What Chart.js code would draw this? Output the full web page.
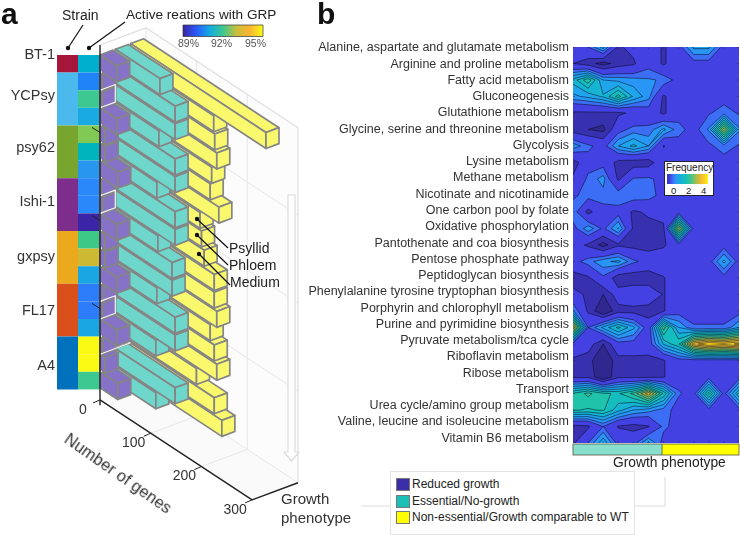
<!DOCTYPE html>
<html>
<head>
<meta charset="utf-8">
<style>
  html, body { margin: 0; padding: 0; background: #fff; }
  body { width: 740px; height: 535px; position: relative; overflow: hidden; font-family: "Liberation Sans", Arial, sans-serif; color: #333; }
  canvas { position: absolute; left: 0; top: 0; }
  .note { position: absolute; white-space: nowrap; line-height: 1; }
  #legend { position: absolute; left: 390px; top: 471px; width: 243px; height: 62px; border: 1.5px solid #e4e4e4; background: #fff; }
  #legend i { position: absolute; left: 5px; width: 12px; height: 11px; border: 1px solid #777; }
  #legend span { position: absolute; left: 21px; font-size: 12px; line-height: 1; color: #222; white-space: nowrap; }
  #freq { position: absolute; left: 664px; top: 161px; width: 48px; height: 33px; border: 1px solid #223; background: #fff; }
</style>
</head>
<body>
<canvas id="bars" width="740" height="535"></canvas>
<canvas id="contour" width="740" height="535"></canvas>
<div id="legend"></div>
<script src="https://cdn.jsdelivr.net/npm/chart.js@4/dist/chart.umd.min.js"></script>
<script>
// panel a: genes per strain row
const strains = ['BT-1', 'YCPsy', 'psy62', 'Ishi-1', 'gxpsy', 'FL17', 'A4'];
const strainRows = [1, 3, 3, 3, 3, 3, 3];
const strainLabelRows = [0, 2.33, 5.28, 8.35, 11.47, 14.54, 17.67];
const strainColors = ['#a5173a', '#4cb9ec', '#78a52e', '#7d2d8c', '#ebaa1e', '#d9501a', '#0072bd'];
const grpColors = ['#00afcd', '#2084f8', '#3dc892', '#1aaae2', '#82c855', '#00b4be', '#2896ec', '#2a88fa', '#2a88fa', '#3c24a6',
  '#3dc888', '#cdb932', '#1aa6e2', '#2d7dfa', '#2d7dfa', '#1aa6e2', '#fafa14', '#fafa14', '#3dc892'];
const reducedGenes = [33, 5, 5, 33, 10, 10, 35, 3, 5, 33, 10, 10, 33, 8, 5, 33, 5, 10, 35];
const essentialGenes = [88, 118, 118, 86, 118, 118, 82, 118, 118, 84, 112, 112, 82, 118, 118, 80, 0, 118, 80];
const growthGenes = [267, 164, 166, 170, 160, 157, 174, 137, 140, 145, 165, 165, 170, 157, 165, 170, 130, 165, 180];
const geneTicks = [0, 100, 200, 300];
const grpStops = ['#3c23a5', '#2a5afa', '#14aae1', '#3cc891', '#c8be3c', '#fab432', '#fafa14'];

// panel b: pathway by growth phenotype frequency
const pathways = [
  'Alanine, aspartate and glutamate metabolism', 'Arginine and proline metabolism', 'Fatty acid metabolism',
  'Gluconeogenesis', 'Glutathione metabolism', 'Glycine, serine and threonine metabolism', 'Glycolysis',
  'Lysine metabolism', 'Methane metabolism', 'Nicotinate and nicotinamide', 'One carbon pool by folate',
  'Oxidative phosphorylation', 'Pantothenate and coa biosynthesis', 'Pentose phosphate pathway',
  'Peptidoglycan biosynthesis', 'Phenylalanine tyrosine tryptophan biosynthesis', 'Porphyrin and chlorophyll metabolism',
  'Purine and pyrimidine biosynthesis', 'Pyruvate metabolism/tca cycle', 'Riboflavin metabolism', 'Ribose metabolism',
  'Transport', 'Urea cycle/amino group metabolism', 'Valine, leucine and isoleucine metabolism', 'Vitamin B6 metabolism'
];
const frequency = [
  [0, .2, 1.1, -.6, -.3, 0, -.6, 0, 1, 1, 0, 0],
  [-.5, -.8, -1.2, -.8, -.6, 0, -.6, 0, 0, 0, 0, 0],
  [1.4, 2.2, .9, .8, .7, .6, .5, 0, 0, 0, 0, 0],
  [.8, 1, 1.3, 2.1, 1.2, .7, -.6, 0, 0, 0, 0, 0],
  [-.6, -.6, -.6, -.6, -.4, -.1, -.6, 0, 0, .15, .4, .15],
  [-.8, -1, -1.15, 0, .35, .3, 1, .35, 0, .6, 3.2, .6],
  [.8, .3, 0, .9, 1.35, .9, -.55, 0, 0, .1, .4, .15],
  [-.8, 0, 0, -.7, -.8, -.8, 0, 0, 0, 0, 0, 0],
  [-.4, .3, .7, -.6, .25, .3, 0, 0, 0, 0, 0, 0],
  [.1, .4, .4, .5, .5, .4, 0, 0, 0, 0, 0, 0],
  [.5, -.7, 0, 0, -.6, -.4, -.3, 0, 0, 0, 0, 0],
  [0, .8, .1, .95, -.6, -.7, -.6, 3.2, 0, 0, 0, 0],
  [-.2, -.6, -1.2, -.6, -.7, -.8, -.6, 0, 0, 0, 0, 0],
  [0, .4, .8, 1, .3, 0, 0, 0, 0, 0, 1, 0],
  [-.8, -.6, .1, -.9, -.9, -.9, -.55, 0, 0, 0, 0, 0],
  [-.3, -.6, -1, -.2, 0, 0, -.55, 0, 0, 0, 0, 0],
  [.6, -.6, -1.5, -.7, -.7, -.8, -.55, 0, 0, 0, 0, 0],
  [3.7, .2, 1, 1.7, 1, -.1, 2.5, .9, .25, .25, .25, .9],
  [0, -.2, -1, 0, 0, -.1, 1.3, 1.9, 3.9, 4.4, 4.2, 4.5],
  [-.6, -.8, -1.5, -.7, -.7, -.7, -.55, 0, 0, 0, 0, 0],
  [-.6, -.6, -1.5, -.6, -.6, -.6, -.55, 0, 0, 0, 0, 0],
  [2, 2.4, 2, 1.9, 2.4, 3.6, 1.9, .25, 0, 2.1, 0, 1.6],
  [2, 1.9, 2, 1.4, .9, .7, .4, 0, 0, 0, 0, 0],
  [-.7, -.6, .2, -.55, -.7, -.55, .3, 0, 0, 0, 0, 0],
  [-.6, .2, 1.2, 0, 0, 1, 0, 0, 0, 0, 0, 0]
];
const contourLevels = [-1, -.5, .2, .55, .9, 1.25, 1.6, 1.95, 2.3, 2.65, 3, 3.35, 3.7, 4.05, 4.4];
const contourColors = ['#30288f', '#3730af', '#4341e1', '#3c6ef5', '#2896f5', '#1ea5eb', '#14b4d2', '#14bebe', '#1ec3aa',
  '#3cc396', '#6ec36e', '#a5be50', '#d7b937', '#fabe2d', '#fad723', '#faf514'];
const phenotypeSplit = 5.9;
const legendItems = [['Reduced growth', '#3a2fa8'], ['Essential/No-growth', '#1abfb5'], ['Non-essential/Growth comparable to WT', '#ffff00']];

const FONT = '"Liberation Sans", Arial, sans-serif';

function note(text, x, y, size, extra) {
  const el = document.createElement('div');
  el.className = 'note';
  el.textContent = text;
  el.style.left = x + 'px';
  el.style.top = y + 'px';
  el.style.fontSize = size + 'px';
  if (extra) Object.assign(el.style, extra);
  document.body.appendChild(el);
  return el;
}

// oblique projection of (genes, phenotype slot, strain row)
const ORIGIN = { x: 100, y: 55 };
const GENE = { x: 0.507, y: 0.333 };
const SLOT = { x: 15.3, y: -5.7 };
const ROW = 17.6;
const project = (g, p, s) => ({
  x: ORIGIN.x + GENE.x * g + SLOT.x * p,
  y: ORIGIN.y + GENE.y * g + SLOT.y * p + ROW * s
});

function poly(ctx, scales, pts, fill, stroke, width) {
  ctx.beginPath();
  pts.forEach((q, i) => {
    const px = scales.x.getPixelForValue(q.x), py = scales.y.getPixelForValue(q.y);
    if (i) ctx.lineTo(px, py); else ctx.moveTo(px, py);
  });
  if (fill) { ctx.closePath(); ctx.fillStyle = fill; ctx.fill(); }
  if (stroke) { ctx.strokeStyle = stroke; ctx.lineWidth = width || 1; ctx.stroke(); }
}

const barsPlugin = {
  id: 'bars3d',
  afterDraw(chart) {
    const { ctx, scales } = chart;
    const P = project;
    const wall = '#e6e6e6';
    const top = -0.57, floor = 19.6;
    ctx.save();
    ctx.lineJoin = 'round';

    // box walls and floor
    poly(ctx, scales, [P(0, 0, floor), P(300, 0, floor), P(300, 3, floor), P(0, 3, floor)], '#fafafa', null);
    poly(ctx, scales, [P(0, 3, top), P(300, 3, top), P(300, 3, floor), P(0, 3, floor)], '#fcfcfc', null);
    [100, 200].forEach(g => {
      poly(ctx, scales, [P(g, 3, top), P(g, 3, floor), P(g, 0, floor)], null, wall, 1);
    });
    [4.4, 9.4, 14.4].forEach(s => {
      poly(ctx, scales, [P(0, 3, s), P(300, 3, s)], null, wall, 1);
    });
    poly(ctx, scales, [P(0, 0, top), P(0, 3, top), P(300, 3, top), P(300, 3, floor)], null, '#dedede', 1.2);
    poly(ctx, scales, [P(0, 3, top), P(0, 3, floor), P(300, 3, floor)], null, wall, 1);

    // growth phenotype arrow on the wall
    poly(ctx, scales, [{ x: 288, y: 195 }, { x: 295, y: 195 }, { x: 295, y: 452 }, { x: 299, y: 452 }, { x: 291.5, y: 461 }, { x: 284, y: 452 }, { x: 288, y: 452 }], '#fff', '#dcdcdc', 1.2);

    // strain and GRP columns
    let row = 0;
    strains.forEach((name, i) => {
      poly(ctx, scales, [{ x: 57, y: P(0, 0, row).y }, { x: 78, y: P(0, 0, row).y }, { x: 78, y: P(0, 0, row + strainRows[i]).y }, { x: 57, y: P(0, 0, row + strainRows[i]).y }], strainColors[i], null);
      row += strainRows[i];
    });
    grpColors.forEach((c, s) => {
      poly(ctx, scales, [{ x: 78, y: P(0, 0, s).y }, { x: 100, y: P(0, 0, s).y }, { x: 100, y: P(0, 0, s + 1).y }, { x: 78, y: P(0, 0, s + 1).y }], c, null);
    });

    // bars, lower rows first since the upper rows sit on top of them
    const W = 0.85, H = 16 / ROW;
    const edge = '#858585', edgeWidth = 1.7;
    const series = [[growthGenes, '#faf96e', 2], [essentialGenes, '#6fd6cb', 1], [reducedGenes, '#8672c6', 0]];
    for (let s = grpColors.length - 1; s >= 0; s--) {
      series.forEach(([vals, color, p]) => {
        const g = vals[s];
        if (!g) return;
        poly(ctx, scales, [P(0, p + W, s), P(g, p + W, s), P(g, p, s), P(0, p, s)], color, edge, edgeWidth);
        poly(ctx, scales, [P(0, p, s), P(g, p, s), P(g, p, s + H), P(0, p, s + H)], color, edge, edgeWidth);
        poly(ctx, scales, [P(g, p, s), P(g, p + W, s), P(g, p + W, s + H), P(g, p, s + H)], color, edge, edgeWidth);
      });
    }

    // empty bars only leave their white outline
    [2, 8, 14].forEach(s => {
      poly(ctx, scales, [P(0, 0, s), P(0, 1, s), P(0, 1, s + 1), P(0, 0, s + 1)], null, '#f4f4f4', 1.2);
    });
    poly(ctx, scales, [P(0, 0, 17), P(0, 2, 17)], null, '#f4f4f4', 1.2);
    grpColors.forEach((c, s) => {
      if (s) poly(ctx, scales, [P(0, 0.05, s), P(0, 0.12, s)], null, '#fff', 1.2);
    });

    // axes
    poly(ctx, scales, [P(0, 0, top), P(0, 0, floor + 0.3)], null, '#222', 1.4);
    poly(ctx, scales, [P(0, 0, floor), P(300, 0, floor), P(300, 3, floor)], null, '#222', 1.4);
    [4.4, 9.4, 14.4].forEach(s => {
      poly(ctx, scales, [P(0, 0, s), { x: P(0, 0, s).x - 8, y: P(0, 0, s).y - 5 }], null, '#222', 1);
    });
    ctx.font = '14px ' + FONT;
    ctx.textAlign = 'center';
    ctx.textBaseline = 'middle';
    geneTicks.forEach(g => {
      const q = P(g, 0, floor);
      poly(ctx, scales, [q, { x: q.x - 7, y: q.y + 3 }], null, '#222', 1);
      ctx.fillStyle = '#333';
      ctx.fillText(String(g), scales.x.getPixelForValue(q.x) - 17, scales.y.getPixelForValue(q.y) + 10);
    });
    ctx.font = '14.5px ' + FONT;
    ctx.textAlign = 'right';
    strains.forEach((name, i) => {
      ctx.fillText(name, 55, scales.y.getPixelForValue(P(0, 0, strainLabelRows[i]).y));
    });

    // GRP colour bar
    const grad = ctx.createLinearGradient(183, 0, 263, 0);
    grpStops.forEach((c, i) => grad.addColorStop(i / (grpStops.length - 1), c));
    ctx.fillStyle = grad;
    ctx.fillRect(183, 25, 80, 11.5);
    ctx.strokeStyle = '#333';
    ctx.lineWidth = 0.7;
    ctx.strokeRect(183, 25, 80, 11.5);

    // call-out lines
    ctx.strokeStyle = '#111';
    ctx.fillStyle = '#111';
    ctx.lineWidth = 1.2;
    [[68, 48, 83, 25], [89, 48, 125, 22], [197, 219, 228, 248], [197, 235, 228, 265], [199, 254, 230, 285]].forEach(([x0, y0, x1, y1]) => {
      ctx.beginPath();
      ctx.moveTo(x0, y0);
      ctx.lineTo(x1, y1);
      ctx.stroke();
      ctx.beginPath();
      ctx.arc(x0, y0, 2.2, 0, Math.PI * 2);
      ctx.fill();
    });

    // legend connectors
    ctx.strokeStyle = '#dcdcdc';
    ctx.lineWidth = 1;
    ctx.beginPath();
    ctx.moveTo(361, 506); ctx.lineTo(391, 506);
    ctx.moveTo(634, 506); ctx.lineTo(665, 506); ctx.lineTo(665, 477);
    ctx.stroke();
    ctx.restore();
  }
};

new Chart(document.getElementById('bars'), {
  type: 'scatter',
  data: { datasets: [] },
  plugins: [barsPlugin],
  options: {
    responsive: false,
    animation: false,
    layout: { padding: 0 },
    plugins: { legend: { display: false }, tooltip: { enabled: false } },
    scales: {
      x: { type: 'linear', min: 0, max: 740, display: false },
      y: { type: 'linear', min: 0, max: 535, reverse: true, display: false }
    }
  }
});

// filled contours by marching over the grid cells
const contourPlugin = {
  id: 'contourf',
  afterDatasetsDraw(chart) {
    const { ctx, chartArea: area, scales } = chart;
    const px = c => scales.x.getPixelForValue(c), py = r => scales.rows.getPixelForValue(r);
    ctx.save();
    ctx.beginPath();
    ctx.rect(area.left, area.top, area.width, area.height);
    ctx.clip();
    ctx.fillStyle = contourColors[0];
    ctx.fillRect(area.left, area.top, area.width, area.height);
    contourLevels.forEach((L, li) => {
      const fill = new Path2D(), line = new Path2D();
      for (let r = 0; r < frequency.length - 1; r++) {
        for (let c = 0; c < frequency[r].length - 1; c++) {
          const corners = [[c, r], [c + 1, r], [c + 1, r + 1], [c, r + 1]].map(([x, y]) => ({ x, y, v: frequency[y][x] }));
          const pts = [];
          corners.forEach((a, k) => {
            const b = corners[(k + 1) % 4];
            if (a.v >= L) pts.push({ x: a.x, y: a.y, cut: false });
            if ((a.v >= L) !== (b.v >= L)) {
              const t = (L - a.v) / (b.v - a.v);
              pts.push({ x: a.x + (b.x - a.x) * t, y: a.y + (b.y - a.y) * t, cut: true });
            }
          });
          if (pts.length < 3) continue;
          pts.forEach((q, i) => {
            if (i) fill.lineTo(px(q.x), py(q.y)); else fill.moveTo(px(q.x), py(q.y));
            const n = pts[(i + 1) % pts.length];
            if (q.cut && n.cut) {
              line.moveTo(px(q.x), py(q.y));
              line.lineTo(px(n.x), py(n.y));
            }
          });
          fill.closePath();
        }
      }
      ctx.fillStyle = contourColors[li + 1];
      ctx.fill(fill);
      ctx.strokeStyle = 'rgba(10,10,30,0.75)';
      ctx.lineWidth = 0.7;
      ctx.stroke(line);
    });
    // inner box ticks
    ctx.strokeStyle = 'rgba(30,30,60,0.6)';
    ctx.lineWidth = 0.6;
    ctx.beginPath();
    pathways.forEach((_, r) => {
      ctx.moveTo(area.left, py(r)); ctx.lineTo(area.left + 2, py(r));
      ctx.moveTo(area.right, py(r)); ctx.lineTo(area.right - 2, py(r));
    });
    frequency[0].forEach((_, c) => {
      ctx.moveTo(px(c), area.top); ctx.lineTo(px(c), area.top + 2);
      ctx.moveTo(px(c), area.bottom); ctx.lineTo(px(c), area.bottom - 2);
    });
    ctx.stroke();
    ctx.restore();

    // growth phenotype strip
    const split = px(phenotypeSplit);
    ctx.fillStyle = '#88dfcd';
    ctx.fillRect(area.left, area.bottom + 1, split - area.left, 11);
    ctx.fillStyle = '#ffff00';
    ctx.fillRect(split, area.bottom + 1, area.right - split, 11);
    ctx.strokeStyle = '#55553c';
    ctx.lineWidth = 0.8;
    ctx.strokeRect(area.left, area.bottom + 1, area.width, 11);
    ctx.beginPath();
    ctx.moveTo(split, area.bottom + 1);
    ctx.lineTo(split, area.bottom + 12);
    ctx.stroke();
  }
};

new Chart(document.getElementById('contour'), {
  type: 'scatter',
  data: { datasets: [] },
  plugins: [contourPlugin],
  options: {
    responsive: false,
    animation: false,
    layout: { padding: { left: 0, right: 1, top: 47, bottom: 92 } },
    plugins: { legend: { display: false }, tooltip: { enabled: false } },
    scales: {
      x: { type: 'linear', min: 0, max: 11, display: false },
      rows: { type: 'linear', axis: 'y', min: 0, max: 24, reverse: true, display: false },
      y: {
        type: 'linear',
        position: 'left',
        reverse: true,
        min: -0.06,
        max: 24.3,
        grid: { display: false, drawTicks: false },
        border: { display: false },
        afterBuildTicks: axis => { axis.ticks = pathways.map((_, i) => ({ value: i })); },
        afterFit: axis => { axis.width = 573; },
        ticks: {
          autoSkip: false,
          padding: 4,
          color: '#333',
          font: { family: FONT, size: 12.5 },
          callback: v => pathways[v]
        }
      }
    }
  }
});

// annotations
note('a', 1, -1, 30, { fontWeight: 'bold', color: '#111' });
note('b', 317, -1, 30, { fontWeight: 'bold', color: '#111' });
note('Strain', 62, 8, 14, { color: '#222' });
note('Active reations with GRP', 126, 8, 13.6, { color: '#222' });
note('89%', 178, 38, 10.5, { color: '#555' });
note('92%', 211, 38, 10.5, { color: '#555' });
note('95%', 245, 38, 10.5, { color: '#555' });
note('Psyllid', 229, 241, 14, { color: '#222' });
note('Phloem', 229, 258, 14, { color: '#222' });
note('Medium', 230, 275, 14, { color: '#222' });
note('Number of genes', 55, 465, 16.5, { transform: 'rotate(35deg)', transformOrigin: '50% 50%' });
note('Growth', 281, 491, 15);
note('phenotype', 281, 510, 15);
note('Growth phenotype', 613, 456, 13.8, { color: '#222' });

// frequency colour bar
const freq = document.createElement('div');
freq.id = 'freq';
document.body.appendChild(freq);
const freqTitle = note('Frequency', 666, 163, 10, { color: '#222' });
const freqBar = document.createElement('div');
freqBar.style.cssText = 'position:absolute;left:667px;top:174px;width:41px;height:10px;background:linear-gradient(90deg,' + contourColors.slice(1).join(',') + ');';
document.body.appendChild(freqBar);
document.body.appendChild(freqTitle);
['0', '2', '4'].forEach((t, i) => note(t, 671 + i * 15, 186, 9.5, { color: '#222' }));

const legend = document.getElementById('legend');
legendItems.forEach(([label, color], i) => {
  const sw = document.createElement('i');
  sw.style.top = (6 + i * 16.5) + 'px';
  sw.style.background = color;
  const tx = document.createElement('span');
  tx.textContent = label;
  tx.style.top = (6 + i * 16.5) + 'px';
  legend.appendChild(sw);
  legend.appendChild(tx);
});
</script>
</body>
</html>
